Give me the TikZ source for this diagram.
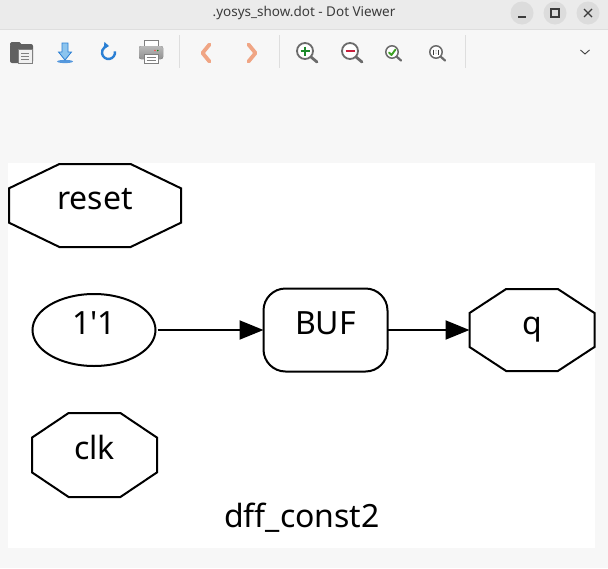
\documentclass[tikz,border=0pt]{standalone}
\usepackage{fontspec}
\setmainfont{Noto Sans}
\newfontfamily\dotfont{Noto Sans}[Ligatures=TeXOff]
\usetikzlibrary{positioning}
\usetikzlibrary{shapes.geometric}
\usetikzlibrary{calc}
\usetikzlibrary{arrows.meta}
\definecolor{winbg}{HTML}{F7F7F7}
\definecolor{titlebg}{HTML}{EBEBEB}
\definecolor{btnbg}{HTML}{DCDCDC}
\definecolor{sepline}{HTML}{DEDEDE}
\definecolor{inkgray}{HTML}{3C3C3C}
\definecolor{lensgray}{HTML}{6B6B6B}
\definecolor{iconblue}{HTML}{2A7FD4}
\definecolor{arrowblue}{HTML}{8CC4EE}
\definecolor{chevron}{HTML}{F0A584}
\definecolor{plusgreen}{HTML}{1C8A2A}
\definecolor{minusred}{HTML}{C8203C}
\tikzset{port/.style={minimum width=125pt, minimum height=83pt, inner sep=0pt, outer sep=0pt, font=\dotfont\fontsize{32}{32}\selectfont, text height=16pt, text depth=8pt}}
\tikzset{cell/.style={port, draw, line width=2pt, rounded corners=22pt, minimum width=124pt}}
\tikzset{const/.style={port, ellipse, draw, line width=2pt, minimum width=123pt, minimum height=72pt}}
\tikzset{wire/.style={line width=2pt, -{Triangle[length=24pt,width=19pt]}}}
\tikzset{lens/.style={draw=lensgray, fill=white, line width=1.8pt}}
\tikzset{handle/.style={draw=lensgray, line width=2.8pt, line cap=round}}
\tikzset{sepbar/.style={draw=sepline, line width=1pt}}
\newcommand{\octagonize}[1]{%
\draw[line width=2pt] ($(#1.north west)!.293!(#1.north east)$) -- ($(#1.north west)!.707!(#1.north east)$)
 -- ($(#1.north east)!.293!(#1.south east)$) -- ($(#1.north east)!.707!(#1.south east)$)
 -- ($(#1.south west)!.707!(#1.south east)$) -- ($(#1.south west)!.293!(#1.south east)$)
 -- ($(#1.north west)!.707!(#1.south west)$) -- ($(#1.north west)!.293!(#1.south west)$) -- cycle;}
\begin{document}
\begin{tikzpicture}[x=1pt,y=-1pt]
\fill[winbg] (0,0) rectangle (608,568);
\useasboundingbox (0,0) rectangle (608,568);
% title bar
\fill[titlebg] (0,0) rectangle (608,29);
\draw[sepline] (0,29.5) -- (608,29.5);
\node[font=\bfseries\fontsize{13.5}{14}\selectfont, text=inkgray] (title) at (304,13) {.yosys\_show.dot - Dot Viewer};
\foreach \bx/\bn in {522/bmin,555/bmax,588/bclose}
  \fill[btnbg] (\bx,13) circle (11.5);
\draw[inkgray, line width=1.2pt] (518,17) -- (526,17);
\draw[inkgray, line width=1.2pt] (551,9) rectangle (559,17);
\draw[inkgray, line width=1.2pt] (584,9) -- (592,17) (584,17) -- (592,9);
% toolbar
\fill[rounded corners=1.5pt, fill=gray!75!black] (10,42) rectangle (21,46);
\fill[rounded corners=2pt, fill=gray!75!black] (10,44) rectangle (33,63);
\fill[fill=black!6, draw=gray] (18.5,49.5) rectangle (32,63);
\foreach \ly in {53,56,59}
  \draw[gray, line width=0.6pt] (21,\ly) -- (29,\ly);
\fill[iconblue!80] (65,61.5) ellipse (8 and 1.6);
\filldraw[fill=arrowblue, draw=iconblue, line width=0.8pt] (62,43) -- (68,43) -- (68,52) -- (71.5,52) -- (65,60) -- (58.5,52) -- (62,52) -- cycle;
\draw[iconblue, line width=2.4pt, -{Triangle[length=5pt,width=7pt]}] (108.5,52.5) ++(-10:6.5) arc[start angle=-10, end angle=275, radius=6.5];
\filldraw[fill=white, draw=gray] (144,40) rectangle (158.5,47);
\fill[rounded corners=2pt, top color=gray!55, bottom color=gray!85] (139,46) rectangle (163,59);
\filldraw[fill=white, draw=gray] (144,54) rectangle (158.5,63);
\draw[gray, line width=0.6pt] (146.5,57.5) -- (156,57.5) (146.5,60.5) -- (156,60.5);
\fill[red!70] (155,50.5) circle (0.8);
\fill[green!50!black] (157.8,50.5) circle (0.8);
\draw[sepbar] (179,35) -- (179,68);
\draw[chevron, line width=3.8pt, line cap=round, line join=round] (209.5,44.5) -- (202.5,53) -- (209.5,61.5);
\draw[chevron, line width=3.8pt, line cap=round, line join=round] (248.5,44.5) -- (255.5,53) -- (248.5,61.5);
\draw[sepbar] (279,35) -- (279,68);
\draw[handle] (311,57) -- (317,62);
\draw[lens] (305,51) circle (8);
\draw[plusgreen, line width=2.6pt] (300.5,51) -- (309.5,51) (305,46.5) -- (305,55.5);
\draw[handle] (356,57) -- (362,62);
\draw[lens] (350,51) circle (8);
\draw[minusred, line width=2.6pt] (345.5,51) -- (354.5,51);
\draw[handle, line width=2.2pt] (396.5,56.5) -- (401,60.5);
\draw[lens, line width=1.5pt] (392,52) circle (6.2);
\draw[plusgreen!80!lime, line width=1.9pt, line cap=round, line join=round] (389,52.5) -- (391.5,55) -- (395.5,49.5);
\draw[handle, line width=2.2pt] (440.5,56.5) -- (445,60.5);
\draw[lens, line width=1.5pt] (436,52) circle (6.2);
\draw[inkgray, line width=0.8pt] (433.5,49.5) -- (433.5,54.5) (438.5,49.5) -- (438.5,54.5);
\fill[inkgray] (436,50.8) circle (0.5) (436,53.2) circle (0.5);
\draw[sepbar] (465,35) -- (465,68);
\draw[inkgray, line width=0.9pt] (580.5,50) -- (585,54) -- (589.5,50);
% graph canvas
\fill[white] (8,163) rectangle (595,548);
\node[port, minimum width=172pt] (reset) at (95,205.5) {reset};
\octagonize{reset}
\node[const] (one) at (94,330) {1'1};
\node[cell, right=108pt of one] (buf) {BUF};
\node[port, minimum height=82pt, right=82pt of buf] (q) {q};
\octagonize{q}
\node[port, minimum height=84pt] (clk) at (94.5,455) {clk};
\octagonize{clk}
\node[font=\dotfont\fontsize{32}{32}\selectfont, anchor=base] (name) at (302,527) {dff\_const2};
\draw[wire, shorten <=2pt] (one.east) -- (buf.west);
\draw[wire] (buf.east) -- (q.west);
\end{tikzpicture}
\end{document}
